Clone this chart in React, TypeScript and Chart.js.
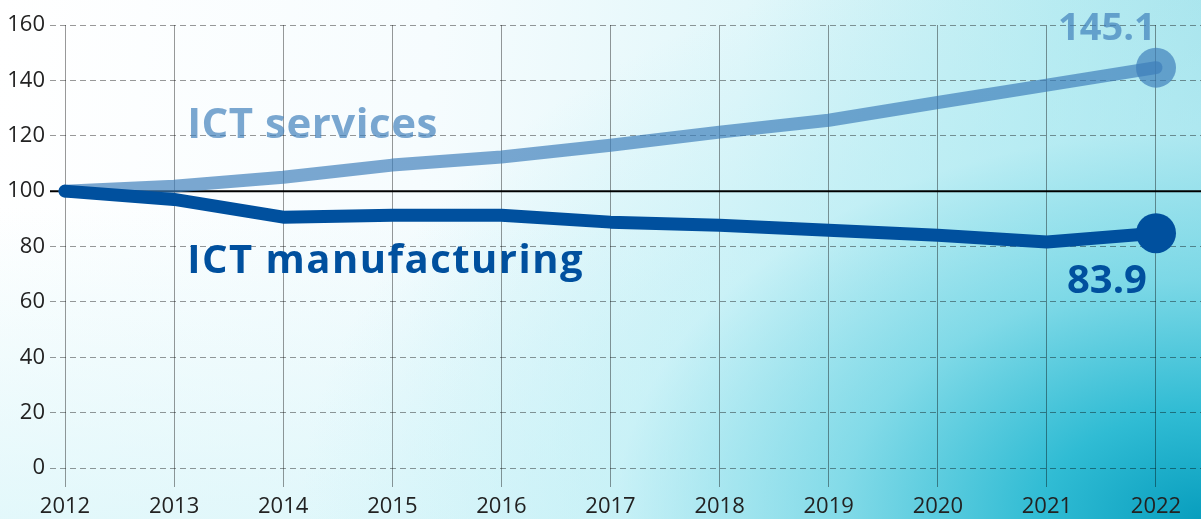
import React, { useEffect, useRef } from "react";
import { Chart, registerables } from "chart.js";

Chart.register(...registerables);

const years = [2012, 2013, 2014, 2015, 2016, 2017, 2018, 2019, 2020, 2021, 2022];
const ictServices = [100, 101.8, 105, 109.4, 112.3, 116.6, 121.3, 125.6, 132, 138.3, 144.6];
const ictManufacturing = [100, 97, 90.6, 91.3, 91.3, 88.8, 87.7, 85.9, 84.1, 81.6, 84.8];
const yTicks = [0, 20, 40, 60, 80, 100, 120, 140, 160];
const seriesNames = ["ICT services", "ICT manufacturing"];
const endLabels = ["145.1", "83.9"];
const baseline = 100;

const SERVICES_COLOR = "rgba(60,125,185,0.68)";
const MANUF_COLOR = "#00509e";
const FONT = "'Open Sans', 'Noto Sans', sans-serif";

const overlayPlugin = {
  id: "overlay",
  beforeDatasetsDraw(chart: any) {
    const { ctx, chartArea, scales } = chart;
    const y = scales.y.getPixelForValue(baseline);
    ctx.save();
    ctx.strokeStyle = "#000";
    ctx.lineWidth = 2;
    ctx.beginPath();
    ctx.moveTo(chartArea.left, y);
    ctx.lineTo(chartArea.right, y);
    ctx.stroke();
    ctx.restore();
  },
  afterDatasetsDraw(chart: any) {
    const { ctx, scales } = chart;
    const xs = scales.x;
    const ys = scales.y;
    ctx.save();
    ctx.textBaseline = "alphabetic";
    ctx.textAlign = "left";
    ctx.font = `bold 42px ${FONT}`;
    (ctx as any).letterSpacing = "0.5px";
    ctx.fillStyle = SERVICES_COLOR;
    ctx.fillText(seriesNames[0], xs.getPixelForValue(2013.12), ys.getPixelForValue(119.1));
    ctx.font = `bold 40px ${FONT}`;
    (ctx as any).letterSpacing = "1.5px";
    ctx.fillStyle = MANUF_COLOR;
    ctx.fillText(seriesNames[1], xs.getPixelForValue(2013.12), ys.getPixelForValue(70.4));
    (ctx as any).letterSpacing = "0px";
    ctx.textAlign = "center";
    ctx.font = `bold 38px ${FONT}`;
    ctx.fillStyle = SERVICES_COLOR;
    ctx.fillText(endLabels[0], xs.getPixelForValue(2021.55), ys.getPixelForValue(154.5));
    ctx.font = `bold 40px ${FONT}`;
    ctx.fillStyle = MANUF_COLOR;
    ctx.fillText(endLabels[1], xs.getPixelForValue(2021.55), ys.getPixelForValue(63.3));
    ctx.restore();
  },
};

export default function App() {
  const canvasRef = useRef<HTMLCanvasElement | null>(null);

  useEffect(() => {
    document.body.style.margin = "0";
    const canvas = canvasRef.current!;
    const n = years.length;
    const radii = years.map((_, i) => (i === n - 1 ? 20 : 0));
    const chart = new Chart(canvas, {
      type: "line",
      data: {
        datasets: [
          {
            label: seriesNames[1],
            data: years.map((x, i) => ({ x, y: ictManufacturing[i] })),
            borderColor: MANUF_COLOR,
            backgroundColor: MANUF_COLOR,
            borderWidth: 13,
            borderCapStyle: "round",
            borderJoinStyle: "round",
            pointRadius: radii,
            pointHoverRadius: radii,
            pointBorderWidth: 0,
            pointBackgroundColor: MANUF_COLOR,
            tension: 0,
            clip: false,
          },
          {
            label: seriesNames[0],
            data: years.map((x, i) => ({ x, y: ictServices[i] })),
            borderColor: SERVICES_COLOR,
            backgroundColor: SERVICES_COLOR,
            borderWidth: 13,
            borderCapStyle: "round",
            borderJoinStyle: "round",
            pointRadius: radii,
            pointHoverRadius: radii,
            pointBorderWidth: 0,
            pointBackgroundColor: SERVICES_COLOR,
            tension: 0,
            clip: false,
          },
        ],
      },
      options: {
        responsive: false,
        animation: false,
        layout: { autoPadding: false, padding: { top: 25, left: 0, right: 0, bottom: 0 } },
        plugins: { legend: { display: false }, tooltip: { enabled: false } },
        scales: {
          x: {
            type: "linear",
            min: 2011.8625,
            max: 2022.4125,
            afterBuildTicks: (scale: any) => {
              scale.ticks = years.map((v) => ({ value: v }));
            },
            afterFit: (scale: any) => {
              scale.height = 51;
              scale.paddingLeft = 0;
              scale.paddingRight = 0;
            },
            grid: {
              color: "rgba(0,0,0,0.4)",
              lineWidth: 1,
              drawTicks: true,
              tickLength: 19,
              tickColor: "rgba(0,0,0,0.4)",
            },
            border: { display: false },
            ticks: {
              padding: 7,
              color: "#222",
              font: { family: FONT, size: 22 },
              maxRotation: 0,
              autoSkip: false,
              callback: (v: any) => String(v),
            },
          },
          y: {
            min: 0,
            max: 160,
            afterBuildTicks: (scale: any) => {
              scale.ticks = yTicks.map((v) => ({ value: v }));
            },
            afterFit: (scale: any) => {
              scale.width = 50;
            },
            grid: {
              color: (c: any) => (c.tick && c.tick.value === baseline ? "rgba(0,0,0,0)" : "rgba(0,0,0,0.4)"),
              lineWidth: 1,
              drawTicks: false,
            },
            border: { display: false, dash: [6, 4] },
            ticks: {
              padding: 5,
              color: "#222",
              font: { family: FONT, size: 22 },
              callback: (v: any) => String(v),
            },
          },
        },
      },
      plugins: [overlayPlugin],
    } as any);
    return () => chart.destroy();
  }, []);

  return (
    <div
      style={{
        position: "absolute",
        left: 0,
        top: 0,
        width: 1201,
        height: 519,
        overflow: "hidden",
        background:
          "radial-gradient(ellipse 75% 115% at 100% 100%, rgba(8,158,190,1) 0%, rgba(40,185,210,0.95) 18%, rgba(110,212,228,0.8) 40%, rgba(180,236,244,0.5) 65%, rgba(255,255,255,0) 100%), linear-gradient(180deg, rgba(255,255,255,0) 40%, rgba(215,245,249,0.7) 100%), linear-gradient(95deg, #ffffff 0%, #f6fcfe 35%, #e2f7fa 60%, #b8ebf1 85%, #a4e2eb 100%)",
      }}
    >
      <canvas ref={canvasRef} width={1201} height={519} />
    </div>
  );
}
